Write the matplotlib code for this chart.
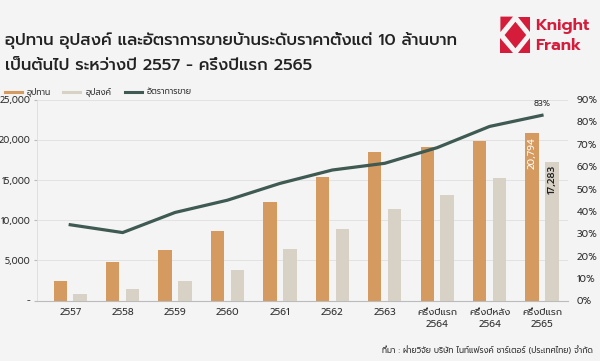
import matplotlib
matplotlib.use("Agg")
import matplotlib.pyplot as plt
from matplotlib.patches import Polygon
from matplotlib.ticker import FuncFormatter
import numpy as np

plt.rcParams['font.family'] = ['Prompt', 'DejaVu Sans']

# Data
categories = ['2557', '2558', '2559', '2560', '2561', '2562', '2563',
              'ครึ่งปีแรก\n2564', 'ครึ่งปีหลัง\n2564', 'ครึ่งปีแรก\n2565']
supply = [2500, 4850, 6300, 8650, 12250, 15400, 18550, 19100, 19800, 20794]
demand = [800, 1500, 2500, 3850, 6400, 8900, 11450, 13200, 15250, 17283]
sales_rate = [34, 30.5, 39.5, 45, 52.5, 58.5, 61.5, 68.5, 78, 83]

title = 'อุปทาน อุปสงค์ และอัตราการขายบ้านระดับราคาตั้งแต่ 10 ล้านบาท\nเป็นต้นไป ระหว่างปี 2557 - ครึ่งปีแรก 2565'
source = 'ที่มา : ฝ่ายวิจัย บริษัท ไนท์แฟรงค์ ชาร์เตอร์ (ประเทศไทย) จำกัด'

# Colours
bg = '#f4f4f4'
c_supply = '#d49a5f'
c_demand = '#d8d2c6'
c_line = '#3e5a52'
c_text = '#333333'
c_red = '#d51c3b'

fig = plt.figure(figsize=(6, 3.61), dpi=100, facecolor=bg)
ax = fig.add_axes([0.062, 0.167, 0.885, 0.557], facecolor=bg)
ax2 = ax.twinx()

x = np.arange(len(categories))
w = 0.255
ax.bar(x - 0.19, supply, w, color=c_supply, zorder=2)
ax.bar(x + 0.19, demand, w, color=c_demand, zorder=2)
ax2.plot(x, sales_rate, color=c_line, lw=2.3, zorder=3)

ax.set_xlim(-0.63, 9.5)
ax.set_ylim(0, 25000)
ax.set_yticks(np.arange(0, 25001, 5000))
ax.yaxis.set_major_formatter(FuncFormatter(lambda v, p: '-' if v == 0 else f'{int(v):,}'))
ax2.set_ylim(0, 90)
ax2.set_yticks(np.arange(0, 91, 10))
ax2.yaxis.set_major_formatter(FuncFormatter(lambda v, p: f'{int(v)}%'))

ax.set_xticks(x)
ax.set_xticklabels(categories, fontsize=7, color=c_text, linespacing=1.5)
ax.tick_params(axis='x', length=0, pad=5)
ax.tick_params(axis='y', labelsize=6.5, colors=c_text, length=2, color='#bbbbbb', pad=3)
ax2.tick_params(axis='y', labelsize=7, colors=c_text, length=0, pad=6)

ax.grid(axis='y', color='#e2e2e2', lw=0.7, zorder=0)
ax.set_axisbelow(True)
for a in (ax, ax2):
    for s in ('top', 'right', 'left', 'bottom'):
        a.spines[s].set_visible(False)
ax.spines['left'].set_visible(True)
ax.spines['left'].set_color('#dddddd')
ax.spines['left'].set_linewidth(0.6)
ax.spines['bottom'].set_visible(True)
ax.spines['bottom'].set_color('#bbbbbb')
ax.spines['bottom'].set_linewidth(0.8)

# value labels on last bars
ax.text(x[-1] - 0.19, supply[-1] - 450, f'{supply[-1]:,}', rotation=90, ha='center',
        va='top', color='white', fontsize=7)
ax.text(x[-1] + 0.19, demand[-1] - 450, f'{demand[-1]:,}', rotation=90, ha='center',
        va='top', color='#222222', fontsize=7, fontweight='medium')
ax2.annotate(f'{sales_rate[-1]:.0f}%', (x[-1], sales_rate[-1]), xytext=(0, 5),
             textcoords='offset points', ha='center', va='bottom', fontsize=6, color=c_text)

# title
fig.text(0.009, 0.852, title, fontsize=11.8, color='#222222', va='center',
         linespacing=1.75, fontweight='medium')

# legend
leg_items = [('อุปทาน', c_supply), ('อุปสงค์', c_demand), ('อัตราการขาย', c_line)]
lx = [0.008, 0.105, 0.208]
for (lab, col), px in zip(leg_items, lx):
    fig.add_artist(plt.Line2D([px, px + 0.028], [0.745, 0.745], color=col, lw=2.2))
    fig.text(px + 0.037, 0.745, lab, fontsize=6, color=c_text, va='center')

# source
fig.text(0.988, 0.03, source, fontsize=5.8, color=c_text, ha='right', va='center')

# logo
lx0, ly0 = 0.834, 0.852
sw, sh = 0.05, 0.102
def P(pts):
    return Polygon([(lx0 + a * sw, ly0 + b * sh) for a, b in pts], closed=True,
                   transform=fig.transFigure, color=c_red, lw=0)
shapes = [
    [(0, 1), (0.42, 1), (0, 0.58)],
    [(0.58, 1), (1, 1), (1, 0.58)],
    [(0, 0.42), (0, 0), (0.42, 0)],
    [(1, 0.42), (1, 0), (0.58, 0)],
    [(0.5, 0.86), (0.86, 0.5), (0.5, 0.14), (0.14, 0.5)],
]
for shp in shapes:
    fig.add_artist(P(shp))
fig.text(0.892, 0.927, 'Knight', fontsize=12, color=c_red, va='center', fontweight='semibold')
fig.text(0.892, 0.872, 'Frank', fontsize=12, color=c_red, va='center', fontweight='semibold')

fig.savefig('out.png', dpi=100, facecolor=bg)
